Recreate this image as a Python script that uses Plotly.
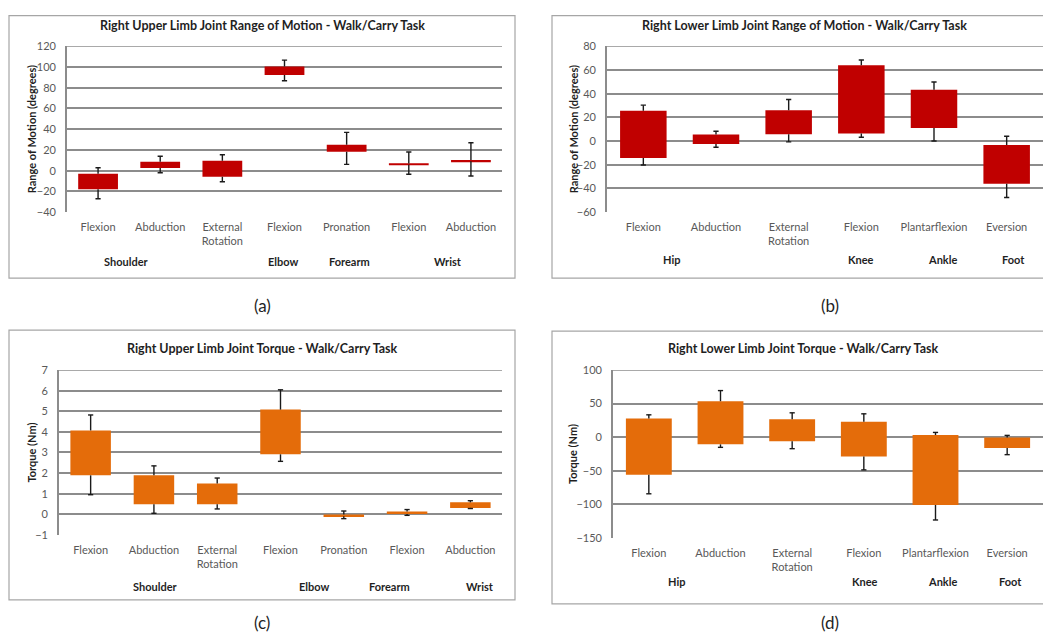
import plotly.graph_objects as go

# Page placement of the figure: OFFX px from the left, OFFY px from the top,
# and the photo is squeezed vertically by S.
OFFX, OFFY = 8, 16
S = 641 / 654
W, H = 1051 - OFFX, 630

# ---------------- data ----------------
# (a) Right upper limb ROM
a_cats = ["Flexion", "Abduction", "External<br>Rotation", "Flexion", "Pronation", "Flexion", "Abduction"]
a_low = [-18, 2.6, -5.8, 92.2, 18.3, 5.8, 9.0]
a_high = [-2.9, 8.7, 9.6, 100.6, 25.0, 7.0, 10.2]
a_wlo = [-27, -2, -10.6, 86.7, 6.1, -3.5, -5.1]
a_whi = [2.9, 14, 15.4, 106.7, 37, 18, 27]
a_groups = ["Shoulder", "Elbow", "Forearm", "Wrist"]
a_group_pos = [0.45, 2.98, 4.04, 5.63]

# (b) Right lower limb ROM
b_cats = ["Flexion", "Abduction", "External<br>Rotation", "Flexion", "Plantarflexion", "Eversion"]
b_low = [-14.3, -2.4, 5.8, 6.3, 11.1, -36]
b_high = [25.5, 5.5, 26, 63.9, 43.3, -3.3]
b_wlo = [-20.2, -5.2, -0.7, 3.2, 0.1, -47.6]
b_whi = [30.3, 8.3, 35.1, 68.4, 49.8, 4.1]
b_groups = ["Hip", "Knee", "Ankle", "Foot"]
b_group_pos = [0.39, 2.99, 4.12, 5.09]

# (c) Right upper limb torque
c_cats = ["Flexion", "Abduction", "External<br>Rotation", "Flexion", "Pronation", "Flexion", "Abduction"]
c_low = [1.89, 0.49, 0.49, 2.91, -0.1, 0.02, 0.31]
c_high = [4.07, 1.89, 1.5, 5.08, -0.01, 0.13, 0.58]
c_wlo = [0.95, 0.05, 0.26, 2.57, -0.21, -0.05, 0.28]
c_whi = [4.82, 2.35, 1.76, 6.04, 0.16, 0.23, 0.66]
c_groups = ["Shoulder", "Elbow", "Forearm", "Wrist"]
c_group_pos = [1.03, 3.53, 4.73, 6.15]

# (d) Right lower limb torque
d_cats = ["Flexion", "Abduction", "External<br>Rotation", "Flexion", "Plantarflexion", "Eversion"]
d_low = [-56.1, -10.7, -6.2, -28.9, -101, -16.1]
d_high = [27.9, 53.6, 26.9, 22.9, 3.2, -0.3]
d_wlo = [-84.3, -15.1, -17.1, -48.7, -123.3, -26]
d_whi = [33.3, 69.4, 36.3, 34.8, 7.1, 2.7]
d_groups = ["Hip", "Knee", "Ankle", "Foot"]
d_group_pos = [0.38, 3.02, 4.10, 5.04]

titles = [
    "Right Upper Limb Joint Range of Motion - Walk/Carry Task",
    "Right Lower Limb Joint Range of Motion - Walk/Carry Task",
    "Right Upper Limb Joint Torque - Walk/Carry Task",
    "Right Lower Limb Joint Torque - Walk/Carry Task",
]
ytitles = ["Range of Motion (degrees)", "Range of Motion (degrees)", "Torque (Nm)", "Torque (Nm)"]
captions = ["(a)", "(b)", "(c)", "(d)"]
yranges = [(-40, 120, 20), (-60, 80, 20), (-1, 7, 1), (-150, 100, 50)]

RED = "#C00000"
ORANGE = "#E46C0A"
colors = [RED, RED, ORANGE, ORANGE]

# ---------------- layout geometry (target picture pixels) ----------------
plots_px = [  # x0, x1, ytop, ybottom
    (67, 502, 47, 213),
    (607, 1043, 47, 213),
    (59, 502, 371, 536),
    (613, 1043, 371, 539),
]
borders_px = [(9, 8, 515, 279), (552, 8, 1050.5, 279), (9, 331, 515, 601), (552, 332, 1050.5, 605)]
title_px = [(262, 26), (804, 26), (262, 349), (803, 349)]
ytitle_px = [31, 573, 31, 573]
group_y_px = [262, 260, 588, 583]
caption_px = [(262, 306), (830, 306), (262, 623.5), (830, 623.5)]

FONT = "Lato"
GRID = "#8C8C8C"
TICK = "#595959"
DARK = "#1F1F1F"

def px(x):
    return (x - OFFX) / W

def py(y):
    fy = max(0.6, y / S - OFFY)
    return 1 - fy / H

panels = [
    (a_cats, a_low, a_high, a_wlo, a_whi, a_groups, a_group_pos),
    (b_cats, b_low, b_high, b_wlo, b_whi, b_groups, b_group_pos),
    (c_cats, c_low, c_high, c_wlo, c_whi, c_groups, c_group_pos),
    (d_cats, d_low, d_high, d_wlo, d_whi, d_groups, d_group_pos),
]

fig = go.Figure()
layout = dict(
    width=W, height=H,
    margin=dict(l=0, r=0, t=0, b=0),
    paper_bgcolor="white", plot_bgcolor="white",
    showlegend=False,
    font=dict(family=FONT, size=11, color=TICK),
    bargap=0.36,
)
annotations = []
shapes = []

for k, (cats, low, high, wlo, whi, groups, gpos) in enumerate(panels):
    n = len(cats)
    xs = list(range(n))
    xa = "x" if k == 0 else f"x{k+1}"
    ya = "y" if k == 0 else f"y{k+1}"
    xkey = "xaxis" if k == 0 else f"xaxis{k+1}"
    ykey = "yaxis" if k == 0 else f"yaxis{k+1}"
    x0, x1, yt, yb = plots_px[k]
    ymin, ymax, dt = yranges[k]

    fig.add_trace(go.Bar(
        x=xs, y=[h - l for l, h in zip(low, high)], base=low,
        marker=dict(color=colors[k], line=dict(width=0)),
        xaxis=xa, yaxis=ya, hoverinfo="skip",
    ))
    # whiskers (from the box edges out to the error values, with caps)
    cap = 2.6 / ((x1 - x0) / n)
    wx, wy = [], []
    for i in xs:
        wx += [i, i, None, i - cap, i + cap, None, i, i, None, i - cap, i + cap, None]
        wy += [high[i], whi[i], None, whi[i], whi[i], None, low[i], wlo[i], None, wlo[i], wlo[i], None]
    fig.add_trace(go.Scatter(
        x=wx, y=wy, mode="lines", line=dict(color="#1A1A1A", width=1.4),
        xaxis=xa, yaxis=ya, hoverinfo="skip", connectgaps=False,
    ))

    layout[xkey] = dict(
        domain=[px(x0), px(x1)], anchor=ya,
        range=[-0.5, n - 0.5], tickvals=xs, ticktext=cats,
        showgrid=False, zeroline=False, showline=False, ticks="",
        tickfont=dict(family=FONT, size=11, color=TICK),
        ticklabelstandoff=7, fixedrange=True,
    )
    layout[ykey] = dict(
        domain=[py(yb), py(yt)], anchor=xa,
        range=[ymin, ymax], dtick=dt, tick0=0,
        showgrid=True, gridcolor=GRID, gridwidth=1.6,
        zeroline=True, zerolinecolor=GRID, zerolinewidth=1.6,
        showline=True, linecolor=GRID, linewidth=1.6,
        ticks="", ticklabelstandoff=7,
        tickfont=dict(family=FONT, size=11, color=TICK), fixedrange=True,
    )

    # border
    bx0, by0, bx1, by1 = borders_px[k]
    shapes.append(dict(type="rect", xref="paper", yref="paper",
                       x0=px(bx0), x1=px(bx1), y0=py(by1), y1=py(by0),
                       line=dict(color="#A6A6A6", width=1.2), fillcolor="rgba(0,0,0,0)"))
    shapes.append(dict(type="line", xref=f"{xa} domain", yref=ya,
                       x0=0, x1=1, y0=ymax, y1=ymax,
                       line=dict(color=GRID, width=1.6), layer="below"))

    # title
    tx, ty = title_px[k]
    annotations.append(dict(text=f"<b>{titles[k]}</b>", xref="paper", yref="paper",
                            x=px(tx), y=py(ty), xanchor="center", yanchor="middle",
                            showarrow=False, font=dict(family=FONT, size=12.5, color=DARK)))
    # y title
    annotations.append(dict(text=f"<b>{ytitles[k]}</b>", xref="paper", yref="paper",
                            x=px(ytitle_px[k]), y=py((yt + yb) / 2), textangle=-90,
                            xanchor="center", yanchor="middle", showarrow=False,
                            font=dict(family=FONT, size=11, color=DARK)))
    # group labels
    for g, gx in zip(groups, gpos):
        annotations.append(dict(text=f"<b>{g}</b>", xref=xa, yref="paper",
                                x=gx, y=py(group_y_px[k]), xanchor="center", yanchor="middle",
                                showarrow=False, font=dict(family=FONT, size=11, color=DARK)))
    # caption
    cx, cy = caption_px[k]
    annotations.append(dict(text=captions[k], xref="paper", yref="paper",
                            x=px(cx), y=py(cy), xanchor="center", yanchor="middle",
                            showarrow=False, font=dict(family=FONT, size=17, color=DARK)))

layout["annotations"] = annotations
layout["shapes"] = shapes
fig.update_layout(**layout)
fig.write_html("out.html")
